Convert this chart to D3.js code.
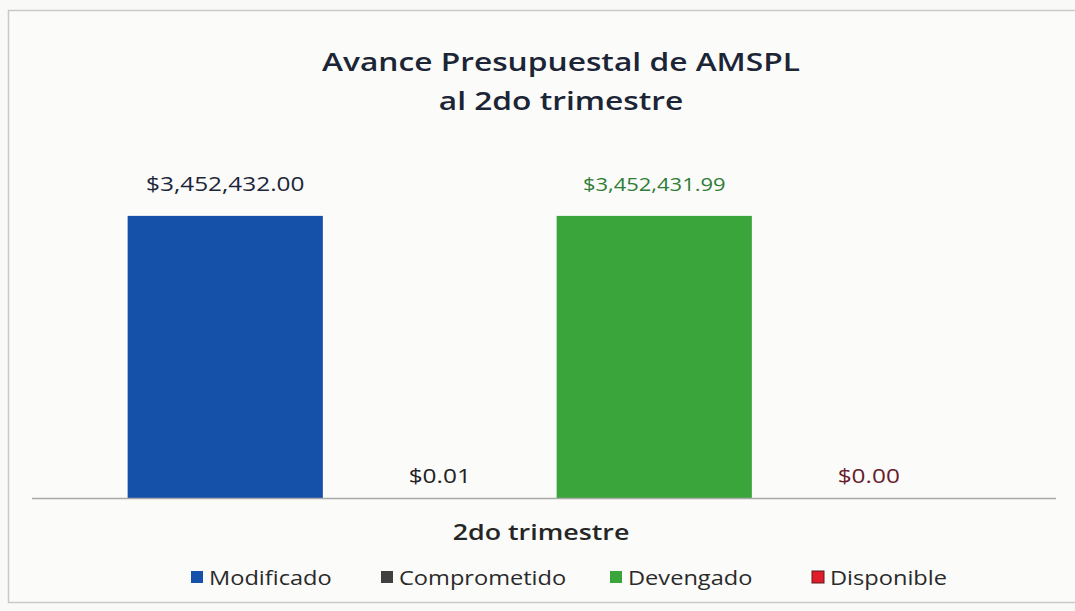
<!DOCTYPE html>
<html>
<head>
<meta charset="utf-8">
<script src="https://cdn.jsdelivr.net/npm/d3@7"></script>
<style>
  html, body { margin: 0; padding: 0; background: #f9f9f8; }
  svg { display: block; font-family: "Open Sans", Lato, sans-serif; }
</style>
</head>
<body>
<div id="chart"></div>
<script>
const seriesNames = ['Modificado', 'Comprometido', 'Devengado', 'Disponible'];
const seriesValues = [3452432.00, 0.01, 3452431.99, 0.00];
const categoryLabel = '2do trimestre';
const titleLines = ['Avance Presupuestal de AMSPL', 'al 2do trimestre'];

const barColors = ['#1651a9', '#404040', '#3aa53a', '#e21d2a'];
const labelColors = ['#1d2638', '#222222', '#2f7d36', '#6a1c2c'];
const labelSizes = [20, 20, 18, 20];

const width = 1075, height = 611;
const baseline = 498;
const stretch = 1.22; // the scanned chart is wider than the font's natural width

const svg = d3.select('#chart').append('svg')
    .attr('width', width)
    .attr('height', height);

const place = (px, py, s = stretch) => `translate(${px},${py}) scale(${s},1)`;

// frame of the scanned chart area
svg.append('rect')
    .attr('x', 8.5).attr('y', 10.5)
    .attr('width', 1080).attr('height', 592)
    .attr('fill', '#fbfbfa')
    .attr('stroke', '#c9c9c9')
    .attr('stroke-width', 1.5);

// title
svg.selectAll('.title')
    .data(titleLines)
    .join('text')
    .attr('class', 'title')
    .attr('transform', (d, i) => place(561, 71 + i * 39))
    .attr('text-anchor', 'middle')
    .attr('fill', '#1b2535')
    .style('font-size', '26px')
    .style('font-weight', '600')
    .text(d => d);

const x = d3.scaleBand()
    .domain(seriesNames)
    .range([118, 976])
    .paddingInner(0.09)
    .paddingOuter(0.045);

const y = d3.scaleLinear()
    .domain([0, 3500000])
    .range([baseline, 212]);

const fmt = d3.format('$,.2f');

// bars
svg.selectAll('.bar')
    .data(seriesValues)
    .join('rect')
    .attr('class', 'bar')
    .attr('x', (d, i) => x(seriesNames[i]))
    .attr('y', d => y(d))
    .attr('width', x.bandwidth())
    .attr('height', d => baseline - y(d))
    .attr('fill', (d, i) => barColors[i]);

// value labels
svg.selectAll('.val')
    .data(seriesValues)
    .join('text')
    .attr('class', 'val')
    .attr('transform', (d, i) => place(
        x(seriesNames[i]) + x.bandwidth() / 2,
        y(d) - (i % 2 === 0 ? 25 : 15)))
    .attr('text-anchor', 'middle')
    .attr('fill', (d, i) => labelColors[i])
    .style('font-size', (d, i) => labelSizes[i] + 'px')
    .text(d => fmt(d));

// axis line
svg.append('line')
    .attr('x1', 32).attr('x2', 1056)
    .attr('y1', baseline + 0.5).attr('y2', baseline + 0.5)
    .attr('stroke', '#a9a9a9')
    .attr('stroke-width', 1.5);

// category label
svg.append('text')
    .attr('transform', place(541, 540))
    .attr('text-anchor', 'middle')
    .attr('fill', '#262626')
    .style('font-size', '22px')
    .style('font-weight', '600')
    .text(categoryLabel);

// legend
const legendX = [191, 381, 610, 812];
const legend = svg.selectAll('.leg')
    .data(seriesNames)
    .join('g')
    .attr('class', 'leg')
    .attr('transform', (d, i) => `translate(${legendX[i]},585)`);

legend.append('rect')
    .attr('x', 0).attr('y', -14)
    .attr('width', 12).attr('height', 12)
    .attr('fill', (d, i) => barColors[i])
    .attr('stroke', (d, i) => i === 3 ? '#5a1a1a' : 'none')
    .attr('stroke-width', 1);

legend.append('text')
    .attr('transform', place(18, 0, 1.18))
    .attr('fill', '#2a2a2a')
    .style('font-size', '20px')
    .text(d => d);
</script>
</body>
</html>
